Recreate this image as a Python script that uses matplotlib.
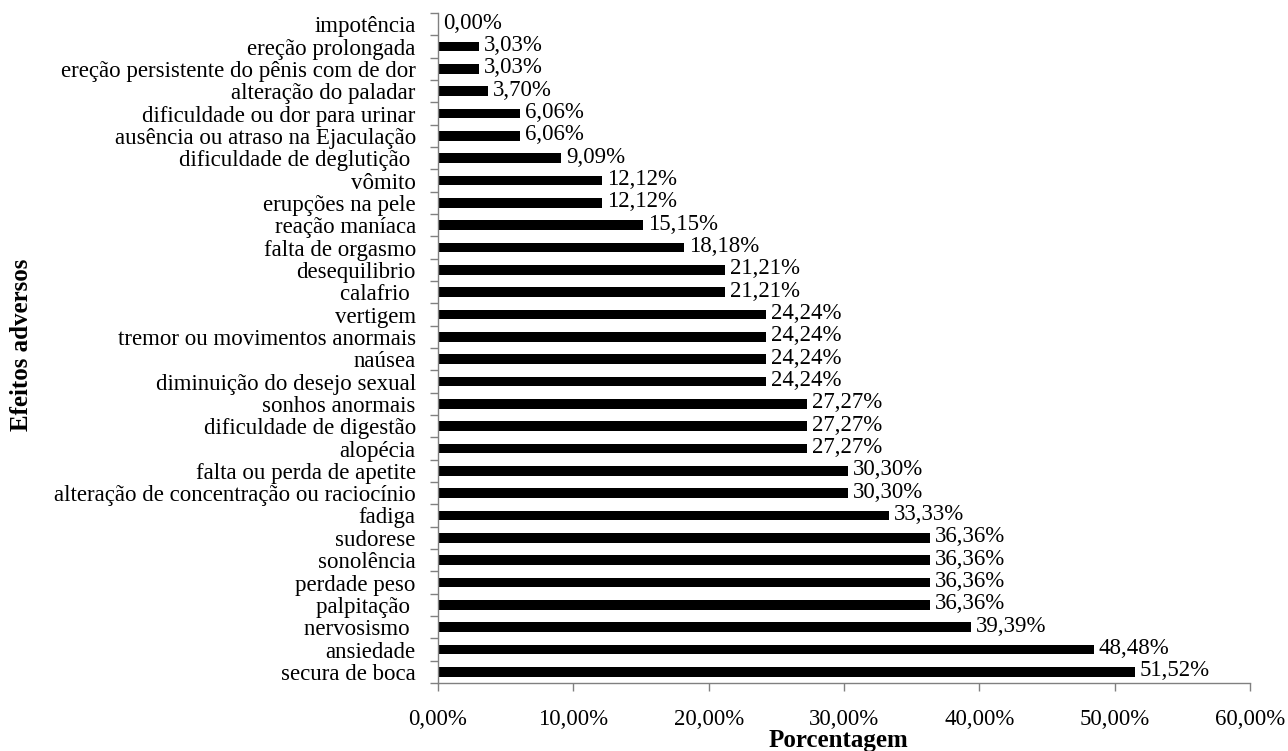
import matplotlib
matplotlib.use("Agg")
import matplotlib.pyplot as plt
import numpy as np

categories = [
    "secura de boca", "ansiedade", "nervosismo ", "palpitação ", "perdade peso",
    "sonolência", "sudorese", "fadiga", "alteração de concentração ou raciocínio",
    "falta ou perda de apetite", "alopécia", "dificuldade de digestão",
    "sonhos anormais", "diminuição do desejo sexual", "naúsea",
    "tremor ou movimentos anormais", "vertigem", "calafrio ", "desequilibrio",
    "falta de orgasmo", "reação maníaca", "erupções na pele", "vômito",
    "dificuldade de deglutição ", "ausência ou atraso na Ejaculação",
    "dificuldade ou dor para urinar", "alteração do paladar",
    "ereção persistente do pênis com de dor", "ereção prolongada", "impotência",
]
values = [51.52, 48.48, 39.39, 36.36, 36.36, 36.36, 36.36, 33.33, 30.30, 30.30,
          27.27, 27.27, 27.27, 24.24, 24.24, 24.24, 24.24, 21.21, 21.21, 18.18,
          15.15, 12.12, 12.12, 9.09, 6.06, 6.06, 3.70, 3.03, 3.03, 0.00]
xticks = [0, 10, 20, 30, 40, 50, 60]

def fmt(v):
    return f"{v:.2f}".replace(".", ",") + "%"

plt.rcParams["font.family"] = ["Liberation Serif", "DejaVu Serif"]
FS = 16.5

fig = plt.figure(figsize=(12.88, 7.51), dpi=100)
ax = fig.add_axes([438/1288, 1-683/751, (1250-438)/1288, (683-13)/751])

y = np.arange(len(categories))
ax.barh(y, values, height=0.42, color="black")
for yi, v in zip(y, values):
    ax.text(v + 0.35, yi + 0.05, fmt(v), va="center", ha="left", fontsize=FS)

ax.set_xlim(0, 60)
ax.set_ylim(-0.5, len(categories) - 0.5)
ax.set_xticks(xticks)
ax.set_xticklabels([fmt(t) for t in xticks], fontsize=FS)
ax.set_yticks(y)
ax.set_yticklabels(categories, fontsize=FS)
ax.set_yticks(np.arange(-0.5, len(categories), 1), minor=True)
ax.tick_params(axis="y", which="major", length=0, pad=16)
ax.tick_params(axis="y", which="minor", length=6, color="#808080", width=1)
ax.tick_params(axis="x", which="major", length=6, color="#808080", width=1, pad=13)

for s in ["top", "right"]:
    ax.spines[s].set_visible(False)
for s in ["left", "bottom"]:
    ax.spines[s].set_color("#808080")
    ax.spines[s].set_linewidth(1)

fig.text(838/1288, 1-741/751, "Porcentagem", ha="center", va="center",
         fontsize=18, fontweight="bold")
fig.text(22/1288, 1-345/751, "Efeitos adversos", ha="center", va="center",
         rotation=90, fontsize=18, fontweight="bold")

fig.savefig("out.png", dpi=100)
